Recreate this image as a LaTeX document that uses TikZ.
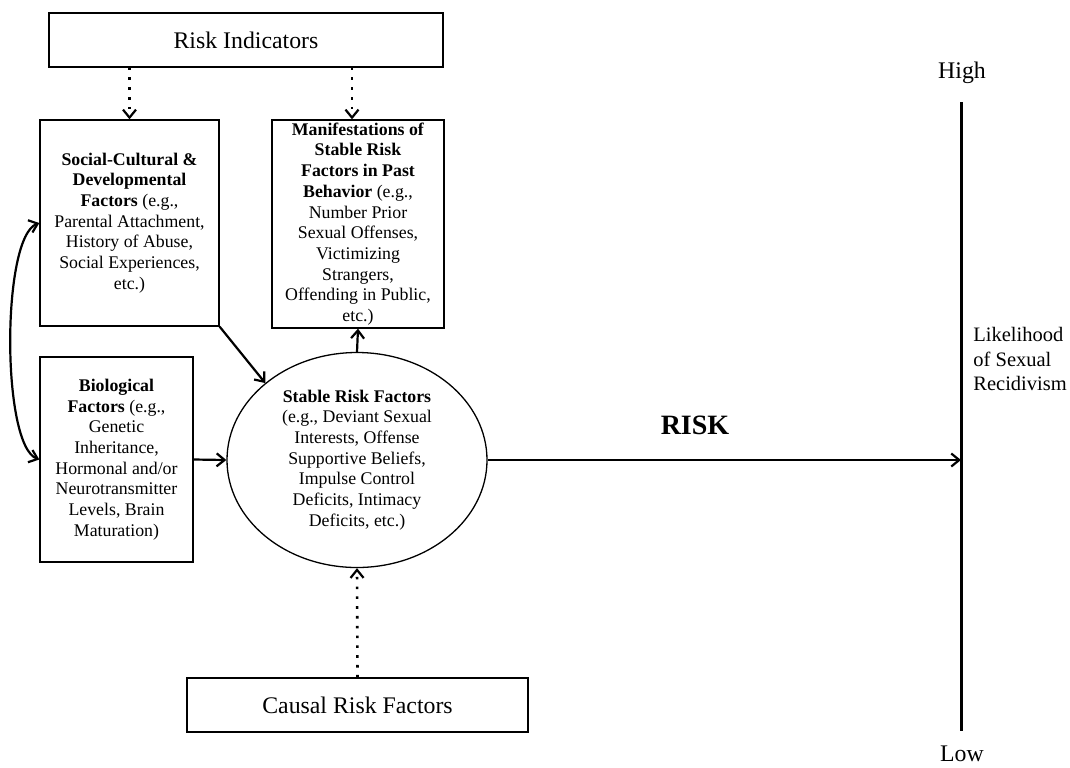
\documentclass[tikz,border=0pt]{standalone}
\usepackage{fontspec}
\setmainfont{Liberation Serif}
\usetikzlibrary{arrows.meta,shapes.geometric}
\begin{document}
\begin{tikzpicture}[x=0.5pt,y=-0.5pt,
  txt/.style={font=\fontsize{8.9}{10.35}\selectfont},
  bigtxt/.style={font=\fontsize{11.9}{14}\selectfont},
  box/.style={draw, line width=0.65pt, align=center, inner sep=0pt},
  arr/.style={line width=1.1pt, -{Straight Barb[length=4pt,width=6.5pt,line width=1.1pt]}},
  dotarr/.style={line width=1.3pt, dash pattern=on 1.3pt off 3.6pt, -{Straight Barb[length=4pt,width=6.5pt,line width=1.1pt]}},
  biarr/.style={line width=1.1pt, {Straight Barb[length=4pt,width=6.5pt,line width=1.1pt]}-{Straight Barb[length=4pt,width=6.5pt,line width=1.1pt]}}
]
\useasboundingbox (0,0) rectangle (1070,767);

\node[box, bigtxt, minimum width=197pt, minimum height=27pt] (ri) at (246,40) {Risk Indicators};

\node[box, txt, minimum width=89.5pt, minimum height=103pt] (soc) at (129.5,223)
 {\textbf{Social-Cultural \&}\\ \textbf{Developmental}\\ \textbf{Factors} (e.g.,\\ Parental Attachment,\\ History of Abuse,\\ Social Experiences,\\ etc.)};

\node[box, txt, minimum width=86pt, minimum height=104pt] (man) at (358,224)
 {\textbf{Manifestations of}\\ \textbf{Stable Risk}\\ \textbf{Factors in Past}\\ \textbf{Behavior} (e.g.,\\ Number Prior\\ Sexual Offenses,\\ Victimizing\\ Strangers,\\ Offending in Public,\\ etc.)};

\node[box, txt, minimum width=76.5pt, minimum height=102.5pt] (bio) at (116.5,459.5)
 {\textbf{Biological}\\ \textbf{Factors} (e.g.,\\ Genetic\\ Inheritance,\\ Hormonal and/or\\ Neurotransmitter\\ Levels, Brain\\ Maturation)};

\node[draw, ellipse, line width=0.65pt, txt, align=center, inner sep=0pt, minimum width=130pt, minimum height=107.5pt] (stable) at (357,460)
 {\textbf{Stable Risk Factors}\\ (e.g., Deviant Sexual\\ Interests, Offense\\ Supportive Beliefs,\\ Impulse Control\\ Deficits, Intimacy\\ Deficits, etc.)};

\node[box, bigtxt, minimum width=170.5pt, minimum height=27pt] (causal) at (357.5,705) {Causal Risk Factors};

\coordinate (vtop) at (961,102);
\coordinate (vbot) at (961,731);
\draw[line width=1.5pt] (vtop) -- (vbot);

\node[bigtxt, inner sep=0pt] (high) at (962,73) {High};
\node[bigtxt, inner sep=0pt] (low) at (962,754) {Low};
\node[font=\fontsize{10.25}{12.25}\selectfont, align=left, anchor=west, inner sep=0pt] (like) at (973,359) {Likelihood\\ of Sexual\\ Recidivism};
\node[font=\fontsize{14}{16}\selectfont\bfseries] (risk) at (695,425) {RISK};

\draw[dotarr] (ri.south -| soc.north) -- (soc.north);
\draw[dotarr] ([xshift=-3pt]ri.south -| man.north) -- ([xshift=-3pt]man.north);
\draw[arr] (soc.south east) -- (stable.140);
\draw[arr] (bio.east) -- (stable.west);
\draw[arr] (stable.north) -- (man.south);
\draw[dotarr] (causal.north) -- (stable.south);
\draw[arr] (stable.east) -- (stable.east -| vtop);
\draw[biarr] (soc.west) .. controls +(-38,14) and +(-38,-14) .. (bio.west);
\end{tikzpicture}
\end{document}
